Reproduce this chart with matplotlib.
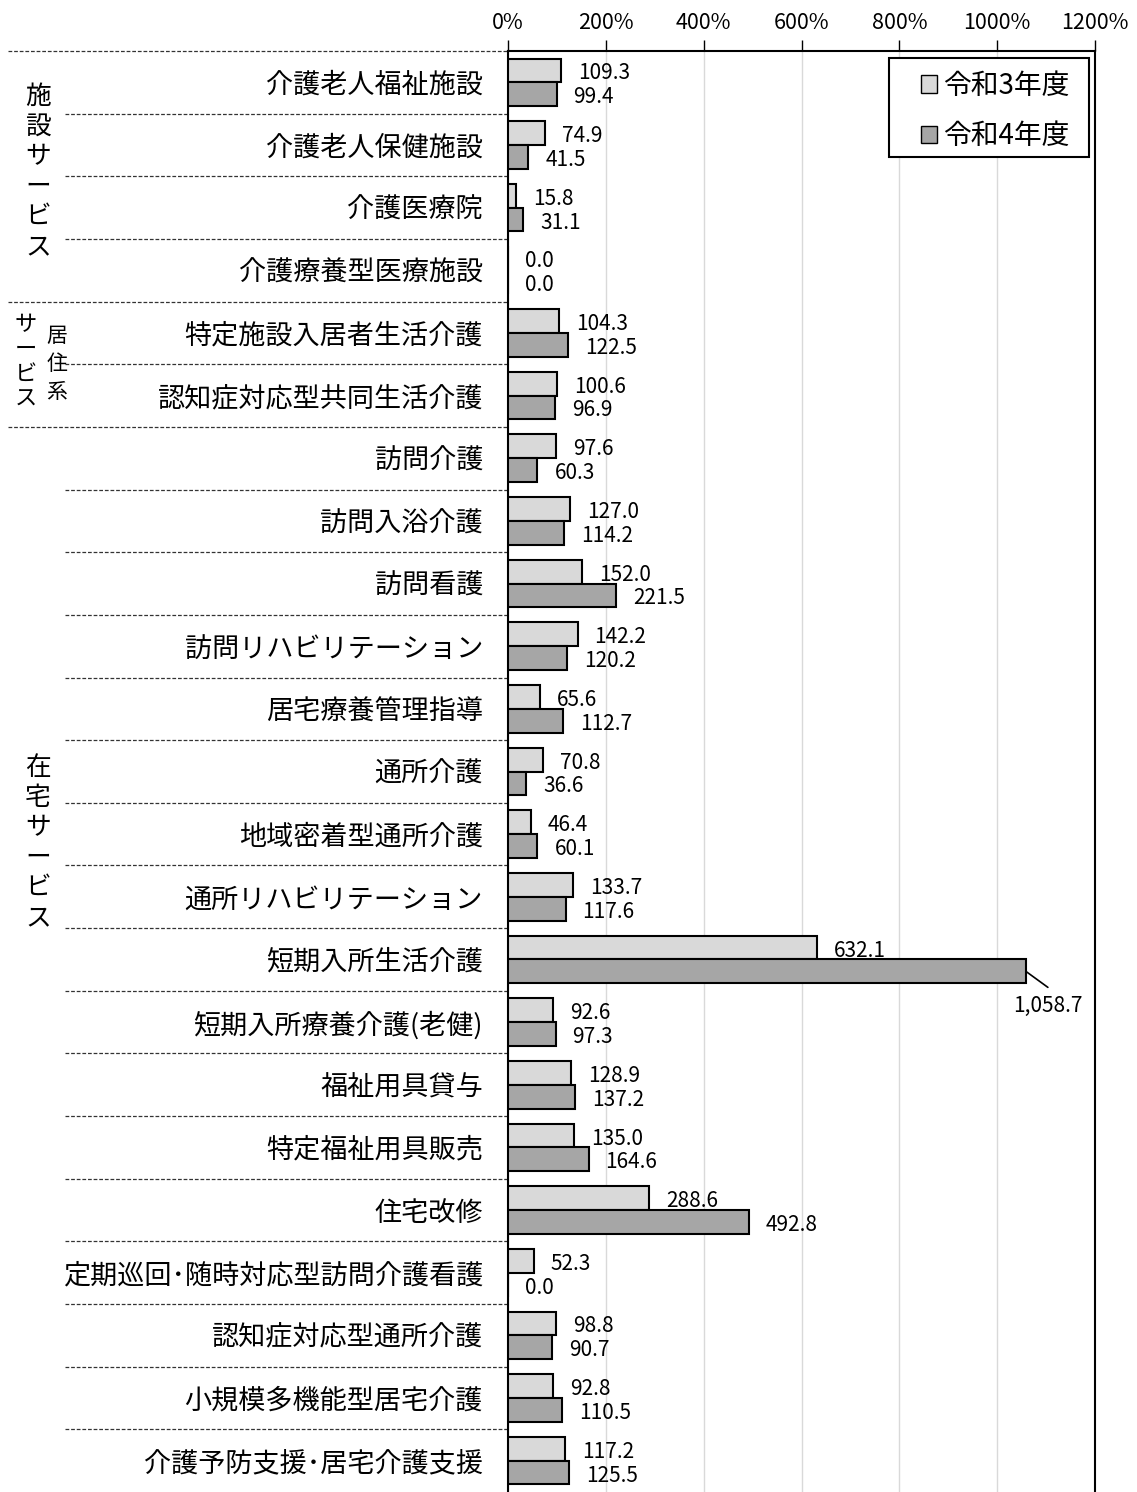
import numpy as np
import matplotlib.pyplot as plt
from matplotlib.patches import Patch, Rectangle
from matplotlib.transforms import blended_transform_factory

plt.rcParams['font.family'] = ['Noto Sans CJK JP', 'DejaVu Sans']

categories = [
    '介護老人福祉施設', '介護老人保健施設', '介護医療院', '介護療養型医療施設',
    '特定施設入居者生活介護', '認知症対応型共同生活介護',
    '訪問介護', '訪問入浴介護', '訪問看護', '訪問リハビリテーション',
    '居宅療養管理指導', '通所介護', '地域密着型通所介護', '通所リハビリテーション',
    '短期入所生活介護', '短期入所療養介護(老健)', '福祉用具貸与', '特定福祉用具販売',
    '住宅改修', '定期巡回･随時対応型訪問介護看護', '認知症対応型通所介護',
    '小規模多機能型居宅介護', '介護予防支援･居宅介護支援',
]
r3 = [109.3, 74.9, 15.8, 0.0, 104.3, 100.6, 97.6, 127.0, 152.0, 142.2, 65.6, 70.8,
      46.4, 133.7, 632.1, 92.6, 128.9, 135.0, 288.6, 52.3, 98.8, 92.8, 117.2]
r4 = [99.4, 41.5, 31.1, 0.0, 122.5, 96.9, 60.3, 114.2, 221.5, 120.2, 112.7, 36.6,
      60.1, 117.6, 1058.7, 97.3, 137.2, 164.6, 492.8, 0.0, 90.7, 110.5, 125.5]
series_names = ['令和3年度', '令和4年度']
xticks = [0, 200, 400, 600, 800, 1000, 1200]
group_breaks = [3.5, 5.5]

W, H = 1137, 1492
fig = plt.figure(figsize=(W / 100, H / 100), dpi=100)
ax = fig.add_axes([508 / W, 0, (1095 - 508) / W, (H - 51) / H])

n = len(categories)
y = np.arange(n)
light, dark = '#d9d9d9', '#a6a6a6'
bh = 0.38
ax.barh(y - bh / 2, r3, height=bh, color=light, edgecolor='black', linewidth=1.5, zorder=3)
ax.barh(y + bh / 2, r4, height=bh, color=dark, edgecolor='black', linewidth=1.5, zorder=3)

ax.set_xlim(0, 1200)
ax.set_ylim(n - 0.5, -0.5)
ax.set_xticks(xticks)
ax.set_xticklabels([f'{t}%' for t in xticks], fontsize=15.5)
ax.xaxis.tick_top()
ax.tick_params(axis='x', direction='out', length=8, width=1, pad=4)
ax.set_yticks(y)
ax.set_yticklabels(categories, fontsize=19.5)
ax.tick_params(axis='y', length=0, pad=18)
ax.xaxis.grid(True, color='#d9d9d9', linewidth=1, zorder=0)
ax.set_axisbelow(True)
for s in ['left', 'top', 'right']:
    ax.spines[s].set_linewidth(1.5)
ax.spines['bottom'].set_visible(False)

# value labels
for i in range(n):
    for v, off in ((r3[i], -bh / 2), (r4[i], bh / 2)):
        if v > 1000:
            # label would not fit inside the plot: put it below with a leader line
            ax.annotate('', (v, i + off), xytext=(22, -16), textcoords='offset pixels',
                        arrowprops=dict(arrowstyle='-', color='black', lw=1.2,
                                        shrinkA=0, shrinkB=0))
            ax.annotate(f'{v:,.1f}', (v, i + off), xytext=(22, -35), textcoords='offset pixels',
                        ha='center', va='center', fontsize=15)
        else:
            ax.annotate(f'{v:,.1f}', (v, i + off), xytext=(17, -3), textcoords='offset pixels',
                        ha='left', va='center', fontsize=15)

# legend (frame drawn separately so the padding matches)
handles = [Patch(facecolor=light, edgecolor='black', linewidth=1),
           Patch(facecolor=dark, edgecolor='black', linewidth=1)]
ax.legend(handles, series_names, loc='center left',
          bbox_to_anchor=(921 / W, 1 - 111 / H), bbox_transform=fig.transFigure,
          borderaxespad=0, borderpad=0, frameon=False, fontsize=20,
          handlelength=0.58, handleheight=0.58, handletextpad=0.22, labelspacing=0.73)
ax.add_patch(Rectangle((889 / W, 1 - 157 / H), 200 / W, 99 / H, transform=fig.transFigure,
                       facecolor='white', edgecolor='black', linewidth=1.5, zorder=4,
                       clip_on=False))

# dashed separators on the label side
tr = blended_transform_factory(fig.transFigure, ax.transData)
for b in np.arange(-0.5, n - 1, 1.0):
    x0 = 8 if (b == -0.5 or b in group_breaks) else 65
    ax.plot([x0 / W, 508 / W], [b, b], transform=tr, clip_on=False,
            color='#333333', lw=0.9, linestyle=(0, (3, 1.5)))


def vtext(x, yc, s, step, size):
    top = yc - step * (len(s) - 1) / 2
    for k, ch in enumerate(s):
        fig.text(x / W, 1 - (top + k * step) / H, ch, ha='center', va='center', fontsize=size)


vtext(38, 172, '施設サービス', 30, 18.5)
vtext(26, 362, 'サービス', 25, 16)
vtext(57, 364, '居住系', 28, 15)
vtext(38, 843, '在宅サービス', 30, 18.5)

fig.savefig('out.png', dpi=100)
